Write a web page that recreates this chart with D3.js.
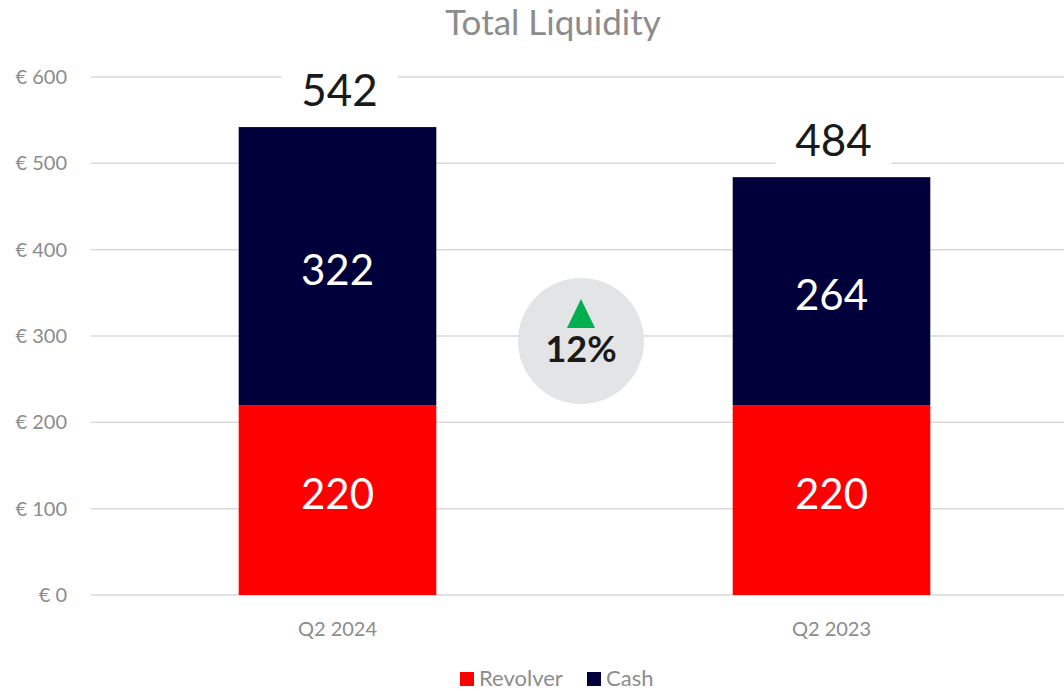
<!DOCTYPE html>
<html lang="en">
<head>
    <meta charset="UTF-8">
    <title>Total Liquidity</title>
    <script src="https://d3js.org/d3.v7.min.js"></script>
    <style>
        body {
            margin: 0;
            padding: 0;
            background-color: #fff;
            font-family: "Source Sans Pro", Lato, "Noto Sans", sans-serif;
            overflow: hidden;
        }
        .grid line {
            stroke: #d9d9d9;
            stroke-width: 1.5px;
        }
        .axis-label {
            fill: #8c8c8c;
            font-size: 20px;
        }
    </style>
</head>
<body>
    <div id="chart"></div>

    <script>
        // Chart data
        const periods = ["Q2 2024", "Q2 2023"];
        const revolver = [220, 220];
        const cash = [322, 264];
        const yTicks = [0, 100, 200, 300, 400, 500, 600];
        const seriesNames = ["Revolver", "Cash"];
        const seriesColors = ["#ff0000", "#00003a"];

        const width = 1064;
        const height = 691;

        const svg = d3.select("#chart").append("svg")
            .attr("width", width)
            .attr("height", height);

        const x = d3.scaleBand()
            .domain(periods)
            .range([90.5, 1078.5])
            .paddingInner(0.6)
            .paddingOuter(0.3);

        const y = d3.scaleLinear()
            .domain([0, 600])
            .range([595, 77]);

        // Title
        svg.append("text")
            .attr("x", 553)
            .attr("y", 35)
            .attr("text-anchor", "middle")
            .attr("fill", "#8c8c8c")
            .style("font-size", "35px")
            .text("Total Liquidity");

        // Gridlines
        svg.append("g")
            .attr("class", "grid")
            .selectAll("line")
            .data(yTicks)
            .enter().append("line")
            .attr("x1", 91)
            .attr("x2", width)
            .attr("y1", d => y(d))
            .attr("y2", d => y(d));

        // Y labels
        svg.append("g")
            .selectAll("text")
            .data(yTicks)
            .enter().append("text")
            .attr("class", "axis-label")
            .attr("x", 67)
            .attr("y", d => y(d) + 7)
            .attr("text-anchor", "end")
            .text(d => "€ " + d);

        // X labels
        svg.append("g")
            .selectAll("text")
            .data(periods)
            .enter().append("text")
            .attr("class", "axis-label")
            .attr("x", d => x(d) + x.bandwidth() / 2)
            .attr("y", 636)
            .attr("text-anchor", "middle")
            .text(d => d);

        // Stacked bars
        const rows = periods.map((p, i) => ({ period: p, Revolver: revolver[i], Cash: cash[i] }));
        const stacked = d3.stack().keys(seriesNames)(rows);

        const layer = svg.append("g")
            .selectAll("g")
            .data(stacked)
            .enter().append("g")
            .attr("fill", (d, i) => seriesColors[i]);

        layer.selectAll("rect")
            .data(d => d)
            .enter().append("rect")
            .attr("x", d => x(d.data.period))
            .attr("width", x.bandwidth())
            .attr("y", d => y(d[1]))
            .attr("height", d => y(d[0]) - y(d[1]));

        // the red segment labels sit a bit above centre in the original
        layer.selectAll("text")
            .data(d => d)
            .enter().append("text")
            .attr("x", d => x(d.data.period) + x.bandwidth() / 2)
            .attr("y", d => (y(d[0]) + y(d[1])) / 2 + (d[0] === 0 ? 9 : 19))
            .attr("text-anchor", "middle")
            .attr("fill", "#fff")
            .style("font-size", "42px")
            .text(d => d[1] - d[0]);

        // Totals with white box behind
        const totals = rows.map(r => ({ period: r.period, total: r.Revolver + r.Cash }));
        const totalG = svg.append("g")
            .selectAll("g")
            .data(totals)
            .enter().append("g")
            .attr("transform", d => `translate(${x(d.period) + x.bandwidth() / 2},${y(d.total)})`);

        totalG.append("rect")
            .attr("x", -56)
            .attr("y", -62)
            .attr("width", 116)
            .attr("height", 52)
            .attr("fill", "#fff");

        totalG.append("text")
            .attr("x", 2)
            .attr("y", -21)
            .attr("text-anchor", "middle")
            .attr("fill", "#1a1a1a")
            .style("font-size", "44px")
            .text(d => d.total);

        // Change bubble
        const change = Math.round((totals[0].total - totals[1].total) / totals[1].total * 100);
        const bubble = svg.append("g").attr("transform", "translate(581,341)");
        bubble.append("circle")
            .attr("r", 63)
            .attr("fill", "#e3e4e6");
        bubble.append("path")
            .attr("d", "M0,-42 L14,-13 L-14,-13 Z")
            .attr("fill", "#00b050");
        bubble.append("text")
            .attr("y", 21)
            .attr("text-anchor", "middle")
            .attr("fill", "#1a1a1a")
            .style("font-size", "36px")
            .style("font-weight", "bold")
            .text(change + "%");

        // Legend
        const legend = svg.append("g")
            .selectAll("g")
            .data(seriesNames)
            .enter().append("g")
            .attr("transform", (d, i) => `translate(${i === 0 ? 460 : 587},672)`);

        legend.append("rect")
            .attr("width", 14)
            .attr("height", 14)
            .attr("fill", (d, i) => seriesColors[i]);

        legend.append("text")
            .attr("class", "axis-label")
            .attr("x", 19)
            .attr("y", 14)
            .style("font-size", "22px")
            .text(d => d);
    </script>
</body>
</html>
